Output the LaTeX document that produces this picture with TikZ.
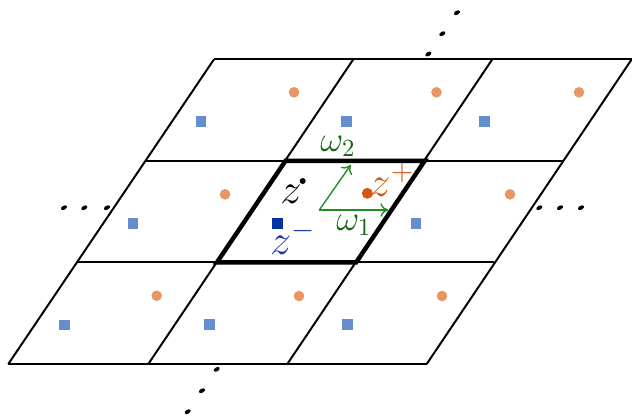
\documentclass[tikz,border=0pt]{standalone}
\usetikzlibrary{arrows.meta}
\definecolor{orlight}{RGB}{232,150,100}
\definecolor{bllight}{RGB}{100,142,205}
\definecolor{ordark}{RGB}{212,88,20}
\definecolor{bldark}{RGB}{0,50,160}
\definecolor{bltext}{RGB}{25,60,170}
\definecolor{grarrow}{RGB}{34,139,34}
\definecolor{grtext}{RGB}{20,100,20}
\tikzset{
  grid/.style={line width=0.8pt, line join=miter},
  cellthick/.style={line width=1.8pt, line join=miter},
  odot/.style={fill=orlight, draw=none},
  bsq/.style={fill=bllight, draw=none},
  ellipsisdot/.style={fill=black, draw=none},
  omarrow/.style={draw=grarrow, line width=0.55pt, -{To[length=3.2pt,width=5.5pt]}},
}
\begin{document}
\begin{tikzpicture}[x=0.014241cm,y=-0.014241cm]
\useasboundingbox (0,0) rectangle (632,416);
% horizontal lattice lines
\draw[grid] (214,59.3) -- (631.7,59.3);
\draw[grid] (145.5,160.8) -- (562.9,160.8);
\draw[grid] (76.9,262.4) -- (494.3,262.4);
\draw[grid] (8.3,364) -- (426.7,364);
% slanted lattice lines
\draw[grid] (8.3,364) -- (214,59.3);
\draw[grid] (148.3,364) -- (353.3,59.3);
\draw[grid] (287.3,364) -- (492.3,59.3);
\draw[grid] (426.7,364) -- (631.7,59.3);
% fundamental cell
\draw[cellthick] (216.9,262.4) -- (356.1,262.4) -- (424.7,160.8) -- (285.5,160.8) -- cycle;
% orange dots
\foreach \p in {(294,92.3),(436.5,92.3),(579,92.3),(225,194.3),(510,194.3),(156.7,295.7),(299,296),(442,296)}
  \fill[odot] \p circle (5.3);
% blue squares
\foreach \x/\y in {201/121.7,346.7/121.7,484.7/121.7,133/223.7,416/223.7,64.3/325,209.3/324.7,347.7/324.7}
  \fill[bsq] (\x-5.4,\y-5.4) rectangle (\x+5.4,\y+5.4);
% ellipsis dots
\foreach \p in {(428.3,54),(442.3,33.7),(457,12.7),(216.7,369.3),(202,390.7),(187.7,411.7),(64,207.7),(84.3,207.7),(107,207.7),(539.3,207.7),(560,207.7),(581,207.7)}
  \fill[ellipsisdot, rotate around={30:\p}] \p ellipse (3.3 and 2);
% omega vectors
\coordinate (o) at (319.3,210);
\coordinate (w1) at (388.3,210);
\coordinate (w2) at (350.7,165);
\draw[omarrow] (o) -- (w1);
\draw[omarrow] (o) -- (w2);
\node[text=grtext, font=\Large] (lw1) at (354,225) {$\omega_1$};
\node[text=grtext, font=\Large] (lw2) at (338,146) {$\omega_2$};
% z
\fill[black] (302.7,181) circle (3);
\node[font=\LARGE] (lz) at (291,194) {$z$};
% z+
\fill[ordark] (367.3,193.3) circle (5.5);
\node[text=ordark, font=\LARGE] (lzp) at (392,180) {$z^+$};
% z-
\fill[bldark] (272,218) rectangle (282.6,228.6);
\node[text=bltext, font=\LARGE] (lzm) at (293,238) {$z^-$};
\end{tikzpicture}
\end{document}
